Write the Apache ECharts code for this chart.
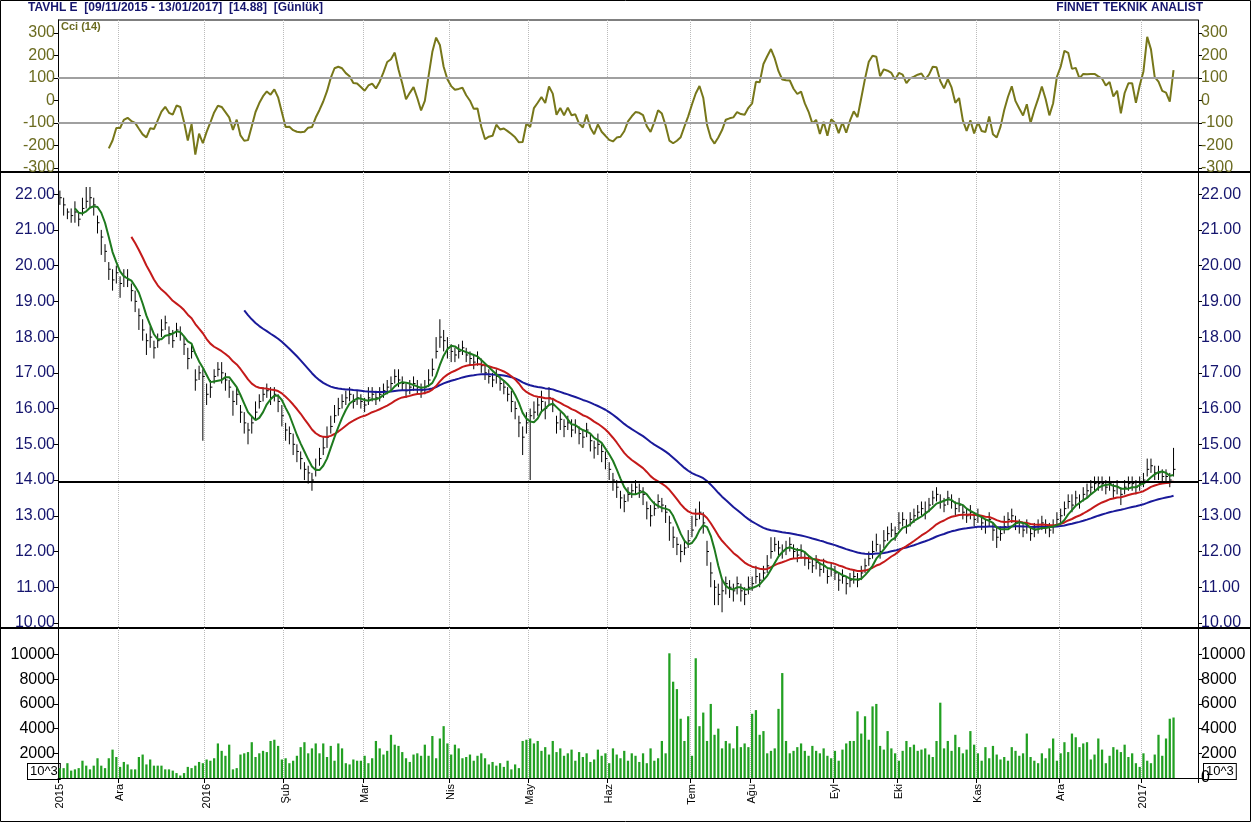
<!DOCTYPE html>
<html><head><meta charset="utf-8">
<script src="https://cdn.jsdelivr.net/npm/echarts@6/dist/echarts.min.js"></script>
<style>html,body{margin:0;padding:0;background:#fff}#main{width:1251px;height:822px}</style>
</head><body><div id="main"></div>
<script>
// kapanis fiyatlari (gunluk, tatiller haric)
var closes=[21.9,21.7,21.5,21.4,21.5,21.3,21.6,21.8,21.9,21.7,
21.2,20.8,20.4,19.9,19.6,19.8,19.5,19.7,19.6,
19.3,19.0,18.6,18.2,17.9,18.0,17.7,17.9,18.2,18.4,
18.1,17.9,18.2,18.1,17.8,17.4,17.6,16.8,17.0,
16.9,16.4,16.6,16.9,17.1,17.0,16.8,16.6,16.2,16.4,
15.9,15.6,15.4,15.6,15.9,16.2,16.4,16.5,16.3,16.4,
16.2,15.8,15.4,15.3,15.0,14.8,14.6,14.3,14.2,
14.0,14.3,14.6,14.9,15.2,15.5,15.8,16.0,16.2,16.3,
16.4,16.2,16.3,16.2,16.1,16.3,16.4,16.3,16.4,
16.5,16.6,16.7,16.9,16.8,16.7,16.5,16.6,16.7,16.6,
16.5,16.6,16.8,17.1,17.6,18.0,17.9,17.7,17.6,17.5,
17.6,17.7,17.5,17.4,17.3,17.4,17.2,17.0,16.9,
16.8,16.9,16.7,16.6,16.4,16.2,16.0,15.6,15.2,15.6,
15.8,15.9,16.1,16.2,16.0,16.3,16.1,15.6,15.7,
15.5,15.6,15.4,15.5,15.3,15.2,15.4,15.1,14.9,15.0,
14.8,14.6,14.3,14.0,13.8,13.5,13.4,13.6,13.7,13.8,
13.7,13.6,13.2,13.0,13.2,13.4,13.3,13.1,12.8,
12.4,12.2,12.0,12.1,12.3,12.6,12.9,13.1,12.8,12.0,
11.4,11.0,10.8,10.9,11.1,11.0,10.9,11.1,10.9,
10.8,11.0,11.1,11.3,11.2,11.4,11.6,12.0,12.2,12.1,
12.0,12.1,12.2,12.0,11.9,12.0,11.8,11.7,11.6,11.7,
11.5,11.6,11.3,11.5,11.4,11.2,11.3,11.1,11.2,
11.3,11.2,11.4,11.6,11.8,12.0,12.2,12.0,12.3,12.5,
12.6,12.5,12.8,12.9,12.7,12.9,13.0,13.1,13.2,
13.1,13.3,13.5,13.6,13.4,13.3,13.5,13.4,13.2,13.3,
13.1,13.0,13.1,12.9,13.0,12.8,12.7,12.9,12.6,12.4,
12.5,12.7,12.9,13.0,12.8,12.7,12.6,12.7,12.5,
12.6,12.7,12.8,12.7,12.6,12.7,12.9,13.0,13.2,13.4,
13.3,13.5,13.4,13.6,13.7,13.8,13.9,13.9,13.9,
13.8,13.9,13.7,13.8,13.6,13.8,13.9,13.9,13.8,13.9,
14.0,14.3,14.4,14.2,14.2,14.1,14.1,14.0,14.3];
// gun ici yukari / asagi sapma (1/10 TL)
var upTenths=[2,2,1,2,3,2,3,4,3,2, 2,2,2,2,3,2,2,2,3, 2,3,2,3,2,3,2,2,3,2, 2,3,2,2,2,3,2,3,2,
2,3,2,2,2,3,2,2,3,2, 2,3,2,2,3,2,2,2,3,2, 2,3,2,2,3,2,2,2,2, 2,3,3,3,3,3,3,3,2,2,
2,2,2,2,2,3,2,2,2, 2,2,2,2,3,2,2,2,2,2, 2,2,3,3,4,5,3,3,2,2, 2,2,2,2,2,2,2,2,2,
2,2,2,2,2,3,2,2,3,3, 2,3,2,3,2,3,2,2,2, 2,2,3,2,2,2,2,2,2,3, 2,2,2,2,2,2,2,2,2,2,
2,2,2,3,2,2,2,2,2, 3,2,2,2,3,4,3,3,3,3, 3,2,3,3,2,2,2,2,2, 2,3,2,3,2,2,3,4,2,2,
2,2,2,2,2,2,2,2,2,2, 2,2,2,2,2,2,2,2,2, 2,2,2,2,2,3,3,2,3,2, 2,2,3,2,2,2,2,2,2,
3,2,2,2,2,2,2,2,2,2, 2,2,2,2,2,2,2,2,2,3, 2,3,2,2,2,2,2,2,2, 2,2,2,2,2,2,2,2,2,2,
3,2,2,2,2,2,2,2,2, 2,2,2,2,2,2,2,2,2,2, 2,3,2,2,2,2,2,2,6];
var dnTenths=[2,3,2,2,3,2,2,2,3,3, 3,5,3,3,3,3,4,3,2, 3,3,4,3,4,3,3,2,2,2, 3,2,2,2,3,3,2,3,2,
18,3,3,2,2,3,3,3,4,3, 3,3,4,3,2,2,2,2,2,2, 3,3,3,3,3,3,3,3,3, 3,2,2,2,3,2,2,2,2,2,
2,2,2,2,2,2,2,2,2, 2,2,2,2,2,2,2,2,2,2, 2,2,2,2,2,3,3,3,3,2, 2,2,2,2,2,2,2,2,2,
2,2,2,2,2,3,3,4,5,3, 18,2,3,3,3,2,2,3,3, 3,2,2,2,3,3,2,3,3,3, 3,3,3,3,3,3,3,2,2,2,
2,3,3,3,2,2,2,3,5, 3,3,3,2,2,2,2,2,3,4, 4,5,3,6,3,3,3,3,3, 3,2,2,2,2,2,2,2,2,2,
2,2,2,2,2,2,2,2,2,2, 2,2,2,2,2,3,2,3,2, 2,2,2,2,2,2,2,2,2,2, 2,2,2,2,2,2,2,2,2,
2,2,2,2,2,2,2,2,2,2, 2,2,2,2,2,2,2,2,3,3, 2,2,2,2,2,2,2,2,2, 2,2,2,2,2,2,2,2,2,2,
2,2,2,2,2,2,2,2,2, 2,2,2,2,3,2,2,2,2,2, 2,2,2,2,2,2,2,2,2];
// hacim (x100 adet, eksen 10^3)
var volHundreds=[8,8,12,6,7,8,14,10,7,10, 16,10,8,16,23,17,9,13,11, 7,7,17,19,11,15,10,10,10,7,
7,6,4,2,4,9,8,10,13, 12,15,14,16,28,22,18,27,7,8, 19,20,21,29,17,20,22,21,30,31,
26,15,16,12,14,18,25,29,20, 24,28,20,28,17,26,14,28,24,12, 11,15,14,14,18,12,16,30,24,
19,22,35,27,26,21,16,13,19,20, 18,27,18,34,16,32,42,28,19,27, 24,16,17,19,14,18,20,16,11,
13,10,12,9,14,7,11,8,30,31, 32,28,30,22,25,19,30,21,24, 18,20,23,14,21,17,20,13,15,23,
18,20,12,24,19,16,22,14,20,18, 13,20,12,24,14,16,30,20,101, 78,72,48,30,50,18,97,42,53,30,
60,35,40,24,30,28,24,42,25, 28,25,52,55,35,38,20,22,24,56, 85,30,20,22,25,28,22,18,26,22,
20,24,18,16,22,14,23,28,30, 30,54,36,50,31,58,60,26,23,38, 24,20,14,22,30,25,27,22,23,
24,19,17,30,61,24,30,22,35,25, 20,23,38,27,20,14,25,16,26,19, 15,17,14,25,22,18,20,36,17,
14,12,20,16,24,32,14,20,29,21, 36,33,25,28,29,15,19,32,23, 12,18,25,23,21,27,17,20,12,9,
20,14,12,19,35,18,32,48,49];
var holidays=['2016-5-19','2016-7-4','2016-7-5','2016-7-6','2016-7-7','2016-7-8','2016-8-30',
    '2016-9-12','2016-9-13','2016-9-14','2016-9-15','2016-9-16'];
var monthNames=['Oca','Şub','Mar','Nis','May','Haz','Tem','Ağu','Eyl','Eki','Kas','Ara'];
var cciTicks=[-300,-200,-100,0,100,200,300];
var priceTicks=[10,11,12,13,14,15,16,17,18,19,20,21,22];
var volTicks=[2000,4000,6000,8000,10000];
var supportLevel=13.95;
var padSlots=6;

var n=closes.length;
var highs=[],lows=[],vols=[];
for(var i=0;i<n;i++){
    highs.push(+(closes[i]+upTenths[i]/10).toFixed(2));
    lows.push(+(closes[i]-dnTenths[i]/10).toFixed(2));
    vols.push(volHundreds[i]*100);
}
// is gunleri
var dates=[],monthStart={},labelOf={};
var d=new Date(2015,10,9),prevM=-1;
while(dates.length<n){
    var wd=d.getDay(),key=d.getFullYear()+'-'+(d.getMonth()+1)+'-'+d.getDate();
    if(wd!==0&&wd!==6&&holidays.indexOf(key)<0){
        var idx=dates.length,m=d.getMonth();
        if(m!==prevM){
            monthStart[idx]=true;
            labelOf[idx]=(m===0||idx===0)?String(d.getFullYear()):monthNames[m];
            prevM=m;
        }
        dates.push(key);
    }
    d.setDate(d.getDate()+1);
}
for(var p=0;p<padSlots;p++)dates.push('pad'+p);

function ma(p){
    var out=[];
    for(var i=0;i<n;i++){
        if(i<p-1){out.push('-');continue;}
        var s=0;for(var j=i-p+1;j<=i;j++)s+=closes[j];
        out.push(+(s/p).toFixed(3));
    }
    return out;
}
// ustel ortalama (ilk deger basit ortalama)
function ema(p){
    var out=[],k=2/(p+1),prev=null;
    for(var i=0;i<n;i++){
        if(i<p-1){out.push('-');continue;}
        if(prev===null){var s=0;for(var j=0;j<p;j++)s+=closes[j];prev=s/p;}
        else prev=closes[i]*k+prev*(1-k);
        out.push(+prev.toFixed(3));
    }
    return out;
}
function cci(p){
    var tp=[],out=[];
    for(var i=0;i<n;i++)tp.push((highs[i]+lows[i]+closes[i])/3);
    for(var i=0;i<n;i++){
        if(i<p-1){out.push('-');continue;}
        var s=0;for(var j=i-p+1;j<=i;j++)s+=tp[j];
        var avg=s/p,md=0;
        for(var j=i-p+1;j<=i;j++)md+=Math.abs(tp[j]-avg);
        md/=p;
        out.push(md?+((tp[i]-avg)/(0.015*md)).toFixed(1):0);
    }
    return out;
}
var ohlc=[];
for(var i=0;i<n;i++)ohlc.push([i,highs[i],lows[i],closes[i]]);

var font='"Liberation Sans",Arial,sans-serif';
var grids=[{left:58,right:53,top:20,height:152},{left:58,right:53,top:172,height:456},{left:58,right:53,top:628,height:150}];
function xAx(gi,showLabel){
    return {type:'category',gridIndex:gi,data:dates,boundaryGap:true,
        axisLine:{show:gi===2,lineStyle:{color:'#000'}},
        axisTick:{show:showLabel,interval:function(i){return !!monthStart[i];},lineStyle:{color:'#000'}},
        axisLabel:{show:showLabel,interval:function(i){return !!monthStart[i];},rotate:90,
            formatter:function(v,i){return labelOf[i]||'';},color:'#000',fontSize:11,fontFamily:font,margin:6},
        splitLine:{show:true,interval:function(i){return !!monthStart[i]&&i>0;},lineStyle:{color:'#bbb',type:'dotted'}}};
}
function yAx(gi,pos,min,max,ticks,color,fmt){
    return {type:'value',gridIndex:gi,position:pos,min:min,max:max,
        axisLine:{show:true,lineStyle:{color:'#000'}},
        axisTick:{show:true,customValues:ticks,length:4,lineStyle:{color:'#000'}},
        minorTick:{show:false},
        axisLabel:{customValues:ticks,color:color,fontSize:16,fontFamily:font,margin:3,formatter:fmt},
        splitLine:{show:false}};
}
var plain=function(v){return String(v);};
var chart=echarts.init(document.getElementById('main'));
chart.setOption({
    backgroundColor:'#fff',
    animation:false,
    grid:grids,
    xAxis:[xAx(0,false),xAx(1,false),xAx(2,true)],
    yAxis:[
        yAx(0,'left',-318,358,cciTicks,'#6b6b20',plain),
        yAx(0,'right',-318,358,cciTicks,'#6b6b20',plain),
        yAx(1,'left',9.86,22.62,priceTicks,'#15156e',function(v){return v.toFixed(2);}),
        yAx(1,'right',9.86,22.62,priceTicks,'#15156e',function(v){return v.toFixed(2);}),
        yAx(2,'left',0,12150,volTicks,'#000',plain),
        yAx(2,'right',0,12150,[0].concat(volTicks),'#000',plain)
    ],
    graphic:[
        {type:'text',left:28,top:2,style:{text:'TAVHL E  [09/11/2015 - 13/01/2017]  [14.88]  [Günlük]',fill:'#15156e',font:'bold 12px '+font}},
        {type:'text',right:48,top:2,style:{text:'FİNNET TEKNİK ANALİST',fill:'#15156e',font:'bold 12px '+font}},
        {type:'text',left:61,top:21,style:{text:'Cci (14)',fill:'#6b6b20',font:'bold 11px '+font}},
        {type:'line',shape:{x1:0,y1:172,x2:1251,y2:172},style:{stroke:'#000',lineWidth:2}},
        {type:'line',shape:{x1:0,y1:628,x2:1251,y2:628},style:{stroke:'#000',lineWidth:2}},
        {type:'line',shape:{x1:58,y1:20,x2:1198,y2:20},style:{stroke:'#000',lineWidth:1}},
        {type:'rect',shape:{x:0.5,y:0.5,width:1250,height:821},style:{fill:null,stroke:'#000',lineWidth:1}},
        {type:'text',left:27,top:763,style:{text:'10^3',fill:'#000',font:'13px '+font,backgroundColor:'#fff',borderColor:'#000',borderWidth:1,padding:[1,2]}},
        {type:'text',left:1203,top:763,style:{text:'10^3',fill:'#000',font:'13px '+font,backgroundColor:'#fff',borderColor:'#000',borderWidth:1,padding:[1,2]}}
    ],
    series:[
        {name:'CCI',type:'line',xAxisIndex:0,yAxisIndex:0,data:cci(14),showSymbol:false,
            lineStyle:{color:'#77771a',width:2},
            markLine:{silent:true,symbol:'none',label:{show:false},lineStyle:{color:'#a0a0a0',type:'solid',width:2},
                data:[{yAxis:100},{yAxis:-100}]}},
        {name:'OHLC',type:'custom',xAxisIndex:1,yAxisIndex:2,data:ohlc,
            renderItem:function(params,api){
                var x=api.value(0),hi=api.coord([x,api.value(1)]),lo=api.coord([x,api.value(2)]),c=api.coord([x,api.value(3)]);
                return {type:'group',children:[
                    {type:'line',shape:{x1:hi[0],y1:hi[1],x2:lo[0],y2:lo[1]},style:{stroke:'#000',lineWidth:1}},
                    {type:'line',shape:{x1:c[0],y1:c[1],x2:c[0]+2,y2:c[1]},style:{stroke:'#000',lineWidth:1}}
                ]};
            },
            markLine:{silent:true,symbol:'none',label:{show:false},lineStyle:{color:'#000',type:'solid',width:2},
                data:[{yAxis:supportLevel}]}},
        {name:'EMA50',type:'line',xAxisIndex:1,yAxisIndex:2,data:ema(50),showSymbol:false,lineStyle:{color:'#1a1a9a',width:2}},
        {name:'EMA20',type:'line',xAxisIndex:1,yAxisIndex:2,data:ema(20),showSymbol:false,lineStyle:{color:'#c41a1a',width:2}},
        {name:'MA5',type:'line',xAxisIndex:1,yAxisIndex:2,data:ma(5),showSymbol:false,lineStyle:{color:'#1e7a1e',width:2}},
        {name:'Hacim',type:'bar',xAxisIndex:2,yAxisIndex:4,data:vols,barWidth:'60%',itemStyle:{color:'#22a022'}}
    ]
});
</script>
</body></html>
